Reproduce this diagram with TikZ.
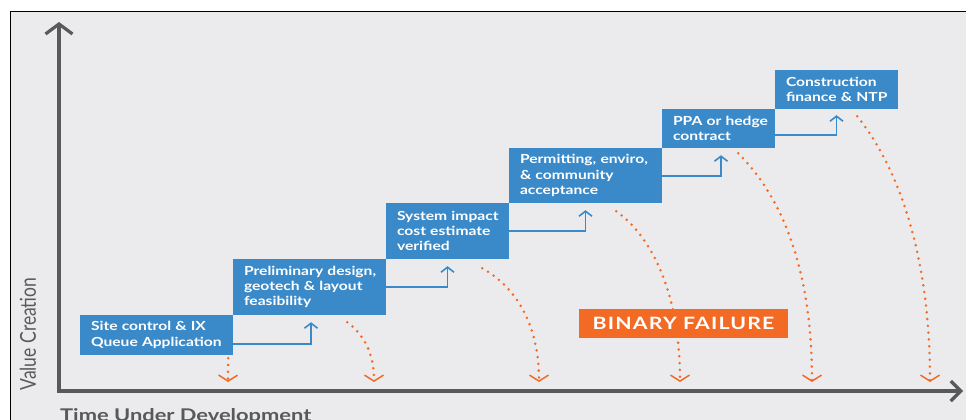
\documentclass[tikz,border=0pt]{standalone}
\usepackage{fontspec}
\setmainfont{Lato}[FakeStretch=1.25]
\newfontfamily\plainlato{Lato}
\usetikzlibrary{arrows.meta}
\definecolor{boxblue}{HTML}{3A8AC9}
\definecolor{failorange}{HTML}{F26A24}
\definecolor{axisgray}{HTML}{58595B}
\definecolor{panelbg}{HTML}{EBEBED}
\newcommand\bline[1]{\mbox{#1}}
\tikzset{
  stepbox/.style={fill=boxblue, text=white, font=\bfseries\fontsize{12.5}{15.3}\selectfont,
    align=left, inner xsep=11pt, inner ysep=0pt, anchor=center},
  conn/.style={draw=boxblue, line width=1.6pt, -{Straight Barb[length=5pt,width=13pt]}},
  failpath/.style={draw=failorange, line width=2.8pt, line cap=round, dash pattern=on 0pt off 6.8pt,
    -{Straight Barb[length=6pt,width=19pt,line width=1.5pt]}},
  axisline/.style={draw=axisgray, line width=3.2pt,
    {Straight Barb[length=10pt,width=27pt]}-{Straight Barb[length=10pt,width=20pt]}},
}
\begin{document}
\begin{tikzpicture}[x=1pt,y=-1pt]
\useasboundingbox (0,0) rectangle (966,420);
\fill[white] (0,0) rectangle (966,420);
\draw[line width=1pt, fill=panelbg] (10,12) rectangle (975,430);

% axes
\coordinate (ytop) at (59,22);
\coordinate (origin) at (59,391);
\coordinate (xend) at (963,391);
\draw[axisline] (ytop) -- (origin) -- (xend);

\node[rotate=90, text=axisgray, inner sep=0pt, font=\plainlato\fontsize{17.5}{20}\selectfont]
  (ylabel) at (28,334) {\scalebox{1}[1.25]{Value Creation}};
\node[anchor=base west, text=axisgray, inner sep=0pt, font=\bfseries\fontsize{17.5}{20}\selectfont]
  (xlabel) at (60,421.5) {Time Under Development};

% steps
\node[stepbox, minimum width=153pt, minimum height=40pt, text width=131pt] (b1) at (156.5,335)
  {\bline{Site control \& IX}\\\bline{Queue Application}};
\node[stepbox, minimum width=153pt, minimum height=56pt, text width=131pt] (b2) at (309.5,287)
  {\bline{Preliminary design,}\\\bline{geotech \& layout}\\\bline{feasibility}};
\node[stepbox, minimum width=123pt, minimum height=56pt, text width=101pt] (b3) at (447.5,231)
  {\bline{System impact}\\\bline{cost estimate}\\\bline{verified}};
\node[stepbox, minimum width=153pt, minimum height=55pt, text width=131pt] (b4) at (585.5,175.5)
  {\bline{Permitting, enviro,}\\\bline{\& community}\\\bline{acceptance}};
\node[stepbox, minimum width=113pt, minimum height=39pt, text width=91pt] (b5) at (718.5,128.5)
  {\bline{PPA or hedge}\\\bline{contract}};
\node[stepbox, minimum width=123pt, minimum height=39pt, text width=101pt] (b6) at (836.5,89.5)
  {\bline{Construction}\\\bline{finance \& NTP}};

% blue step connectors
\draw[conn] ([yshift=-9pt]b1.east) -| ([xshift=1.5pt,yshift=-7pt]b2.south);
\draw[conn] (b2.east) -| ([yshift=-7pt]b3.south);
\draw[conn] (b3.east) -| ([yshift=-7pt]b4.south);
\draw[conn] ([yshift=-0.5pt]b4.east) -| ([xshift=2.5pt,yshift=-7pt]b5.south);
\draw[conn] ([yshift=-6.5pt]b5.east) -| ([yshift=-6pt]b6.south);

% failure drop points
\coordinate (e1) at (228,382);
\coordinate (e2) at (374,382);
\coordinate (e3) at (539,382);
\coordinate (e4) at (680,382);
\coordinate (e5) at (812,382);
\coordinate (e6) at (930,382);

\draw[failpath] ([xshift=-5pt,yshift=-3pt]b1.south east) -- (e1);
\draw[failpath] ([xshift=-39pt,yshift=-7pt]b2.south east) .. controls +(16,12) and +(0,-30) .. (e2);
\draw[failpath] ([xshift=-27pt,yshift=-9pt]b3.south east) .. controls +(32,18) and +(0,-60) .. (e3);
\draw[failpath] ([xshift=-46pt,yshift=-8pt]b4.south east) .. controls +(35,25) and +(0,-90) .. (e4);
\draw[failpath] ([xshift=-37pt,yshift=-5pt]b5.south east) .. controls +(40,40) and +(0,-120) .. (e5);
\draw[failpath] ([xshift=-41pt,yshift=-7pt]b6.south east) .. controls +(40,50) and +(0,-130) .. (e6);

\node[fill=failorange, text=white, minimum width=209pt, minimum height=29pt, inner sep=0pt,
  font=\bfseries\fontsize{17}{20}\selectfont\addfontfeature{LetterSpace=7}] (fail) at (683.5,323.5)
  {BINARY FAILURE};
\end{tikzpicture}
\end{document}
